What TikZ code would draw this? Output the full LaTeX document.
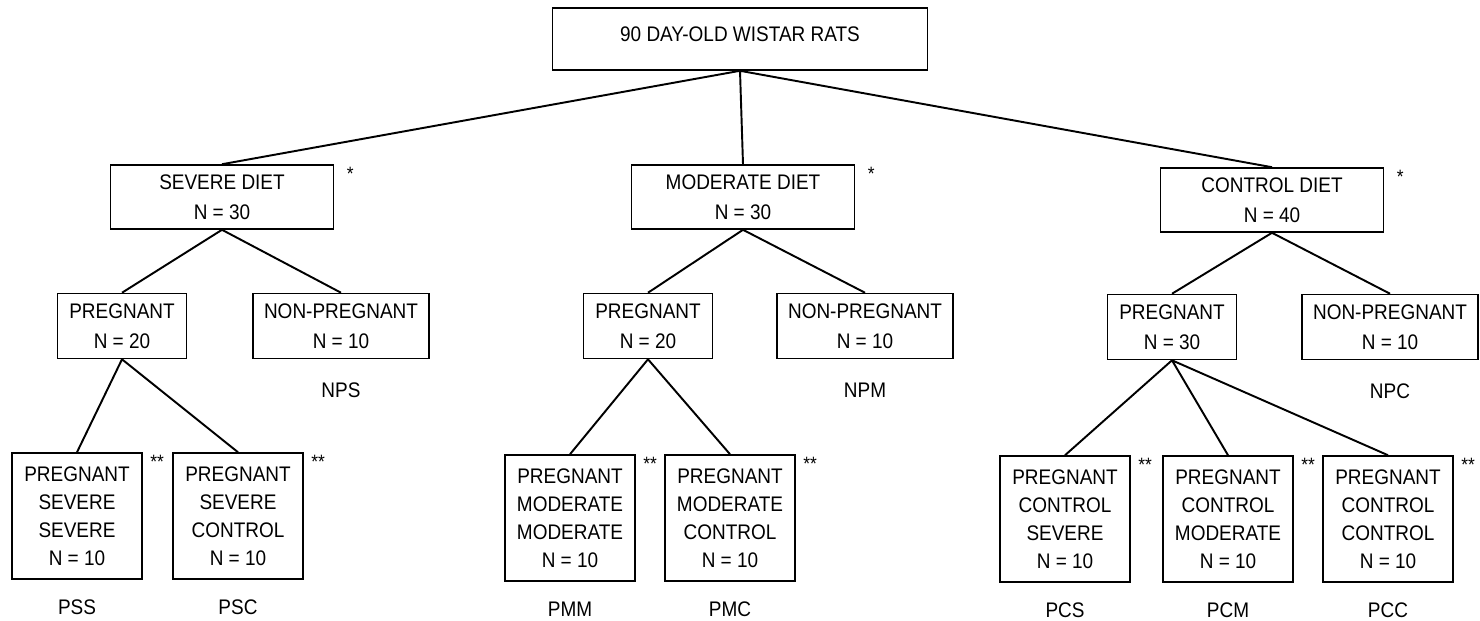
\documentclass[tikz,border=0pt]{standalone}
\usepackage{fontspec}
\setmainfont{Liberation Sans}[FakeStretch=0.9]
\begin{document}
\begin{tikzpicture}[x=0.02cm,y=-0.02cm,line width=0.9pt,
 grp/.style={draw,align=center,inner sep=0pt,font=\fontsize{12}{17}\selectfont},
 root/.style={grp,minimum width=7.5cm,minimum height=1.24cm},
 diet/.style={grp,minimum width=4.46cm,minimum height=1.28cm},
 preg/.style={grp,minimum width=2.58cm,minimum height=1.3cm},
 npreg/.style={grp,minimum width=3.52cm,minimum height=1.3cm},
 sub/.style={grp,minimum width=2.6cm,minimum height=2.52cm,font=\fontsize{12}{16}\selectfont},
 onestar/.style={anchor=north west,label distance=0pt,inner sep=1pt,xshift=0.2cm,font=\fontsize{11}{11}\selectfont},
 twostar/.style={anchor=north west,label distance=0pt,inner sep=1pt,xshift=0.1cm,font=\fontsize{11}{11}\selectfont},
 grplbl/.style={anchor=north,inner sep=0pt,font=\fontsize{12}{14}\selectfont}]
\useasboundingbox (0,0) rectangle (1480,620);
\path (740,39) node[root] (r) {\raisebox{0.18cm}{90 DAY-OLD WISTAR RATS}}
 (222,197) node[diet,label={[onestar]north east:*}] (sd) {SEVERE DIET\\N = 30}
 (743,197) node[diet,label={[onestar]north east:*}] (md) {MODERATE DIET\\N = 30}
 (1272,200) node[diet,label={[onestar]north east:*}] (cd) {CONTROL DIET\\N = 40}
 (122,326) node[preg] (ps) {PREGNANT\\N = 20}
 (341,326) node[npreg,label={[grplbl,label distance=0.45cm]below:NPS}] (nps) {NON-PREGNANT\\N = 10}
 (648,326) node[preg] (pm) {PREGNANT\\N = 20}
 (865,326) node[npreg,label={[grplbl,label distance=0.45cm]below:NPM}] (npm) {NON-PREGNANT\\N = 10}
 (1172,327) node[preg] (pc) {PREGNANT\\N = 30}
 (1390,327) node[npreg,label={[grplbl,label distance=0.45cm]below:NPC}] (npc) {NON-PREGNANT\\N = 10};
\path[every label/.style={grplbl,label distance=0.39cm}]
 (77,516) node[sub,label=below:PSS,label={[twostar]north east:**}] (pss) {PREGNANT\\SEVERE\\SEVERE\\N = 10}
 (238,516) node[sub,label=below:PSC,label={[twostar]north east:**}] (psc) {PREGNANT\\SEVERE\\CONTROL\\N = 10}
 (570,518) node[sub,label=below:PMM,label={[twostar]north east:**}] (pmm) {PREGNANT\\MODERATE\\MODERATE\\N = 10}
 (730,518) node[sub,label=below:PMC,label={[twostar]north east:**}] (pmc) {PREGNANT\\MODERATE\\CONTROL\\N = 10}
 (1065,519) node[sub,label=below:PCS,label={[twostar]north east:**}] (pcs) {PREGNANT\\CONTROL\\SEVERE\\N = 10}
 (1228,519) node[sub,label=below:PCM,label={[twostar]north east:**}] (pcm) {PREGNANT\\CONTROL\\MODERATE\\N = 10}
 (1388,519) node[sub,label=below:PCC,label={[twostar]north east:**}] (pcc) {PREGNANT\\CONTROL\\CONTROL\\N = 10};
\draw[line width=1.1pt] foreach \X in {sd,md,cd} {(r.south) -- (\X.north)}
 (sd.south) -- (ps.north) (sd.south) -- (nps.north) (md.south) -- (pm.north) (md.south) -- (npm.north)
 (cd.south) -- (pc.north) (cd.south) -- (npc.north)
 (ps.south) -- (pss.north) (ps.south) -- (psc.north) (pm.south) -- (pmm.north) (pm.south) -- (pmc.north)
 foreach \X in {pcs,pcm,pcc} {(pc.south) -- (\X.north)};
\end{tikzpicture}
\end{document}
